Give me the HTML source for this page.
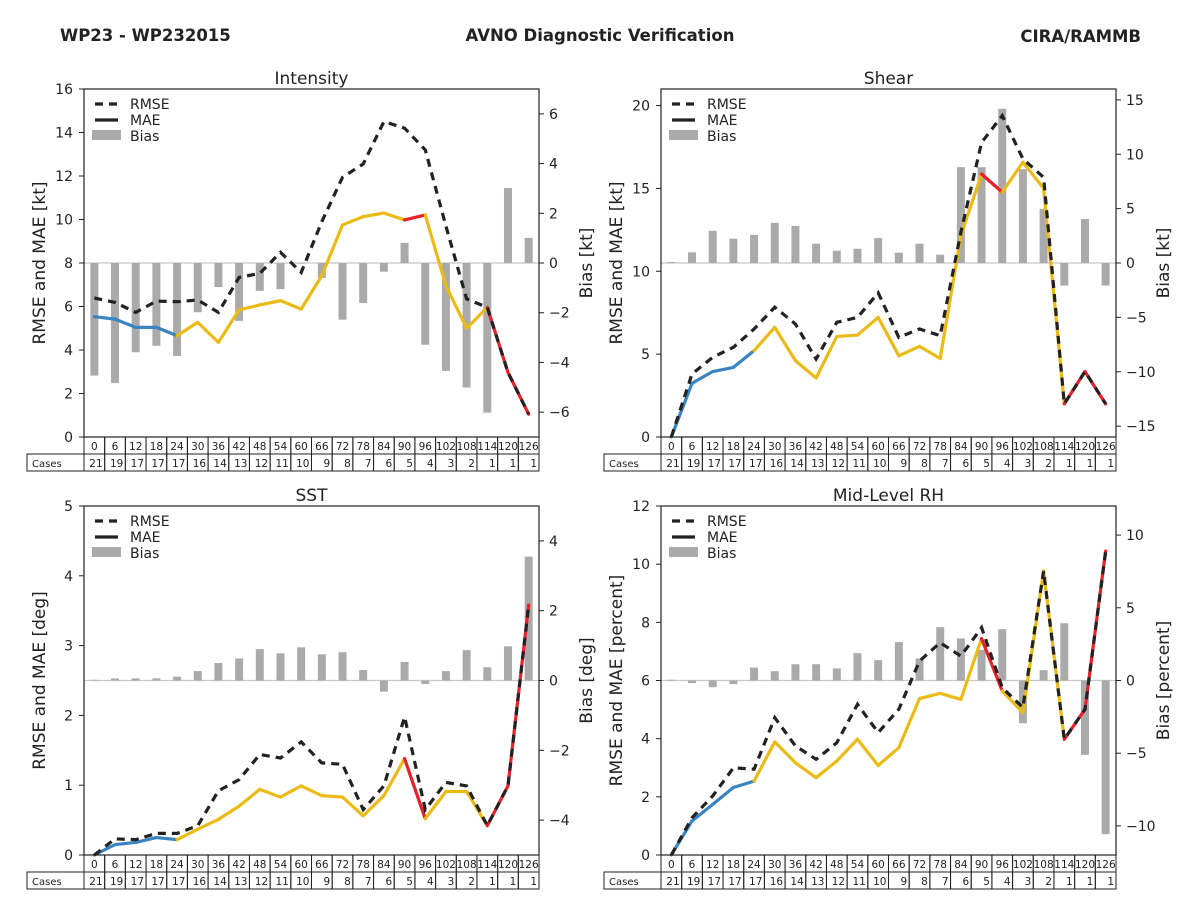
<!DOCTYPE html>
<html><head><meta charset="utf-8"><style>
body{margin:0;background:#fff;}
svg{display:block;font-family:"DejaVu Sans","Liberation Sans",sans-serif;}
</style></head><body>
<svg id="c" width="1200" height="900">
<text x="60" y="41" font-size="16.5" font-weight="bold" fill="#222">WP23 - WP232015</text>
<text x="600" y="41" font-size="16.5" font-weight="bold" fill="#222" text-anchor="middle">AVNO Diagnostic Verification</text>
<text x="1141" y="42" font-size="16.5" font-weight="bold" fill="#222" text-anchor="end">CIRA/RAMMB</text>
</svg>
<script>
const hours=[0,6,12,18,24,30,36,42,48,54,60,66,72,78,84,90,96,102,108,114,120,126];
const cases=[21,19,17,17,17,16,14,13,12,11,10,9,8,7,6,5,4,3,2,1,1,1];
const segColors=['b','b','b','b','y','y','y','y','y','y','y','y','y','y','y','r','y','y','y','r','r'];
const intRmse=[6.39,6.19,5.73,6.25,6.22,6.3,5.73,7.34,7.52,8.49,7.57,9.9,11.94,12.55,14.5,14.2,13.2,9.7,6.35,5.96,2.97,1.05];
const intMae=[5.53,5.42,5.04,5.04,4.66,5.27,4.35,5.85,6.07,6.27,5.88,7.42,9.75,10.13,10.3,9.98,10.21,6.96,5.0,5.96,2.97,1.05];
const intBias=[-4.53,-4.83,-3.59,-3.33,-3.74,-1.98,-0.97,-2.33,-1.12,-1.05,0,-0.6,-2.28,-1.61,-0.35,0.81,-3.29,-4.34,-5.01,-6.02,3.02,1.01];
const shrRmse=[0,3.8,4.81,5.41,6.52,7.83,6.82,4.7,6.92,7.22,8.7,6.01,6.52,6.11,12.35,17.78,19.39,16.78,15.67,2.0,3.95,2.0];
const shrMae=[0,3.24,3.95,4.2,5.21,6.62,4.61,3.56,6.07,6.15,7.22,4.9,5.47,4.74,12.15,15.87,14.77,16.58,15.0,2.0,3.95,2.0];
const shrBias=[0.1,0.98,2.96,2.23,2.59,3.69,3.41,1.77,1.13,1.31,2.29,0.95,1.77,0.76,8.81,8.81,14.18,8.63,4.97,-2.07,4.05,-2.07];
const sstRmse=[0,0.23,0.22,0.31,0.31,0.42,0.92,1.08,1.44,1.39,1.62,1.32,1.3,0.65,0.99,1.98,0.65,1.04,0.99,0.42,0.99,3.58];
const sstMae=[0,0.15,0.18,0.25,0.22,0.37,0.51,0.7,0.94,0.83,0.99,0.85,0.83,0.56,0.85,1.38,0.52,0.91,0.91,0.42,0.99,3.58];
const sstBias=[0.02,0.06,0.06,0.06,0.11,0.27,0.5,0.63,0.9,0.78,0.95,0.75,0.81,0.3,-0.32,0.53,-0.1,0.27,0.87,0.38,0.98,3.55];
const rhRmse=[0,1.28,2.03,3.0,2.95,4.72,3.75,3.29,3.86,5.18,4.21,5.01,6.67,7.3,6.84,7.82,5.75,5.07,9.76,3.98,5.01,10.45];
const rhMae=[0,1.17,1.74,2.32,2.54,3.89,3.17,2.66,3.23,3.98,3.08,3.69,5.38,5.56,5.35,7.44,5.64,4.89,9.76,3.98,5.01,10.45];
const rhBias=[0.05,-0.18,-0.46,-0.25,0.89,0.64,1.12,1.12,0.83,1.88,1.4,2.64,1.51,3.67,2.89,2.11,3.53,-2.94,0.71,3.94,-5.11,-10.57];
const intLeftTicks=[0,2,4,6,8,10,12,14,16], intRightTicks=[-6,-4,-2,0,2,4,6];
const shrLeftTicks=[0,5,10,15,20], shrRightTicks=[-15,-10,-5,0,5,10,15];
const sstLeftTicks=[0,1,2,3,4,5], sstRightTicks=[-4,-2,0,2,4];
const rhLeftTicks=[0,2,4,6,8,10,12], rhRightTicks=[-10,-5,0,5,10];

const COL={b:'#3a84c1',y:'#ebbb15',r:'#e8202a'};
const svg=document.getElementById('c');
const NS='http://www.w3.org/2000/svg';
function mk(tag,at,parent){const e=document.createElementNS(NS,tag);for(const k in at)e.setAttribute(k,at[k]);(parent||svg).appendChild(e);return e;}

const panels=[
 {key:'intensity',title:'Intensity',x:84,y:89,h:348,lmax:16,rmax:7,lt:intLeftTicks,rt:intRightTicks,rmse:intRmse,mae:intMae,bias:intBias,ll:'RMSE and MAE [kt]',rl:'Bias [kt]'},
 {key:'shear',title:'Shear',x:661,y:89,h:348,lmax:21,rmax:16,lt:shrLeftTicks,rt:shrRightTicks,rmse:shrRmse,mae:shrMae,bias:shrBias,ll:'RMSE and MAE [kt]',rl:'Bias [kt]'},
 {key:'sst',title:'SST',x:84,y:506,h:349,lmax:5,rmax:5,lt:sstLeftTicks,rt:sstRightTicks,rmse:sstRmse,mae:sstMae,bias:sstBias,ll:'RMSE and MAE [deg]',rl:'Bias [deg]'},
 {key:'rh',title:'Mid-Level RH',x:661,y:506,h:349,lmax:12,rmax:12,lt:rhLeftTicks,rt:rhRightTicks,rmse:rhRmse,mae:rhMae,bias:rhBias,ll:'RMSE and MAE [percent]',rl:'Bias [percent]'}
];
const W=455, cw=W/22;
panels.forEach(p=>{
 const g=mk('g',{});
 
 
 const xs=i=>p.x+cw*(i+0.5);
 const yl=v=>p.y+p.h-v/p.lmax*p.h;
 const yr=v=>p.y+p.h/2-v/p.rmax*(p.h/2);
 const t=mk('text',{x:p.x+W/2,y:p.y-5,'font-size':17,'text-anchor':'middle',fill:'#222'},g);t.textContent=p.title;
 
 
 mk('line',{x1:p.x,x2:p.x+W,y1:yr(0),y2:yr(0),stroke:'#c8c8c8','stroke-width':1.2},g);
 p.bias.forEach((v,i)=>{
  const y0=yr(0),y1=yr(v);
  const r=mk('rect',{x:xs(i)-4,y:Math.min(y0,y1),width:8,height:Math.max(0.6,Math.abs(y1-y0)),fill:'#aaaaaa'},g);
  
  
 });
 for(let i=0;i<p.mae.length-1;i++){
  const l=mk('line',{x1:xs(i),y1:yl(p.mae[i]),x2:xs(i+1),y2:yl(p.mae[i+1]),stroke:COL[segColors[i]],'stroke-width':3.2,'stroke-linecap':'round'},g);
  
  
 }
 const pl=mk('polyline',{points:p.rmse.map((v,i)=>xs(i).toFixed(1)+','+yl(v).toFixed(1)).join(' '),fill:'none',stroke:'#222','stroke-width':3.2,'stroke-dasharray':'8,6'},g);
 
 
 mk('rect',{x:p.x,y:p.y,width:W,height:p.h,fill:'none',stroke:'#222','stroke-width':1.2},g);
 p.lt.forEach(v=>{const y=yl(v);mk('line',{x1:p.x-5,x2:p.x,y1:y,y2:y,stroke:'#222'},g);
  const tx=mk('text',{x:p.x-11,y:y+5,'font-size':14,'text-anchor':'end',fill:'#222'},g);tx.textContent=v;});
 p.rt.forEach(v=>{const y=yr(v);mk('line',{x1:p.x+W,x2:p.x+W+5,y1:y,y2:y,stroke:'#222'},g);
  const tx=mk('text',{x:p.x+W+10,y:y+5,'font-size':14,fill:'#222'},g);tx.textContent=(v<0?'\u2212'+(-v):v);});
 const ly=p.y+p.h/2;
 const a=mk('text',{x:0,y:0,'font-size':17,'text-anchor':'middle',fill:'#222',transform:`translate(${p.x-39},${ly}) rotate(-90)`},g);a.textContent=p.ll;
 
 
 const b=mk('text',{x:0,y:0,'font-size':17,'text-anchor':'middle',fill:'#222',transform:`translate(${p.x+W+53},${ly}) rotate(-90)`},g);b.textContent=p.rl;
 
 
 const lg=mk('g',{},g);
 
 
 const lx=p.x+8, l0=p.y+15;
 mk('line',{x1:lx+3,x2:lx+30,y1:l0,y2:l0,stroke:'#222','stroke-width':3.2,'stroke-dasharray':'8,6'},lg);
 mk('line',{x1:lx+3,x2:lx+26,y1:l0+16,y2:l0+16,stroke:'#222','stroke-width':3.2},lg);
 mk('rect',{x:lx,y:l0+26,width:29,height:10,fill:'#aaa'},lg);
 ['RMSE','MAE','Bias'].forEach((s,k)=>{const e=mk('text',{x:lx+38,y:l0+5+k*16,'font-size':14,fill:'#222'},lg);e.textContent=s;});
 const ty=p.y+p.h;
 const tb=mk('g',{},g);
 
 
 mk('rect',{x:27+(p.x-84),y:ty+17,width:57,height:17,fill:'none',stroke:'#222'},tb);
 const ct=mk('text',{x:32+(p.x-84),y:ty+30,'font-size':10,fill:'#222'},tb);ct.textContent='Cases';
 hours.forEach((h,i)=>{
  const cx=p.x+cw*i;
  mk('rect',{x:cx,y:ty,width:cw,height:17,fill:'none',stroke:'#222'},tb);
  mk('rect',{x:cx,y:ty+17,width:cw,height:17,fill:'none',stroke:'#222'},tb);
  const e1=mk('text',{x:cx+cw/2,y:ty+13,'font-size':10.5,'text-anchor':'middle',fill:'#222'},tb);e1.textContent=h;
  const e2=mk('text',{x:cx+cw-2,y:ty+30,'font-size':10.5,'text-anchor':'end',fill:'#222'},tb);e2.textContent=cases[i];
 });
});
</script>
</body></html>
